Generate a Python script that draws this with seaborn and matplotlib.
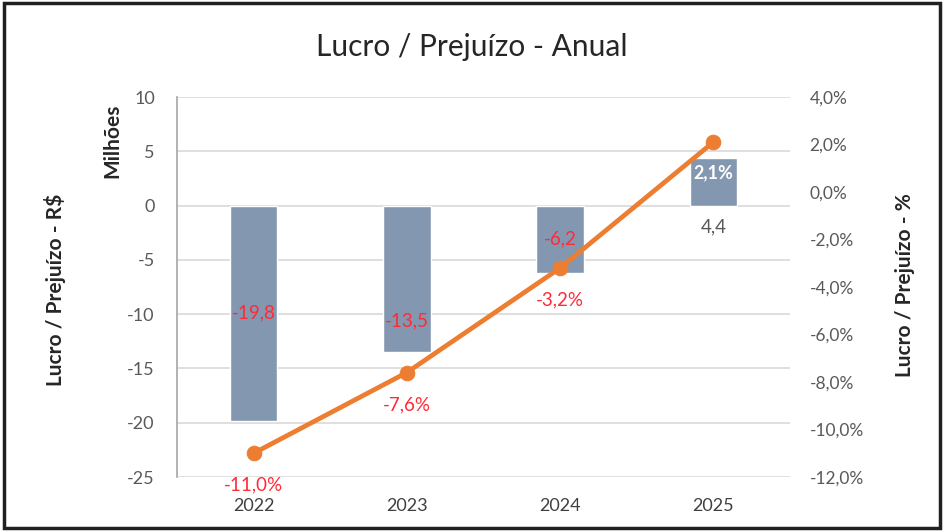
import matplotlib
matplotlib.use("Agg")
import matplotlib.pyplot as plt
import seaborn as sns
import numpy as np
from matplotlib.patches import Rectangle

years = ["2022", "2023", "2024", "2025"]
lucro_mi = [-19.8, -13.5, -6.2, 4.4]
lucro_pct = [-11.0, -7.6, -3.2, 2.1]
left_ticks = [10, 5, 0, -5, -10, -15, -20, -25]
right_ticks = [4, 2, 0, -2, -4, -6, -8, -10, -12]

FONT = "Lato"
sns.set_theme(style="white")
plt.rcParams["font.family"] = [FONT, "DejaVu Sans"]

GRAY = "#595959"
RED = "#FF2A35"
BAR = "#8497B0"
ORANGE = "#ED7D31"

fig = plt.figure(figsize=(9.44, 5.31), dpi=100)
ax = fig.add_axes([177/944, 1-477/531, (790-177)/944, (477-97)/531])

x = np.arange(len(years))
sns.barplot(x=years, y=lucro_mi, ax=ax, color=BAR, width=0.31, saturation=1, zorder=2)
ax.set_ylim(-25, 10)
ax.set_xlim(-0.5, 3.5)
ax.set_yticks(left_ticks)
ax.set_yticklabels([f"{t}" for t in left_ticks])
ax.yaxis.grid(True, color="#D9D9D9", linewidth=1.2, zorder=0)
ax.set_axisbelow(True)
for s in ["top", "right", "bottom"]:
    ax.spines[s].set_visible(False)
ax.spines["left"].set_color("#A6A6A6")
ax.spines["left"].set_linewidth(1.2)
ax.tick_params(axis="y", length=0, labelsize=13, labelcolor=GRAY, pad=16)
ax.tick_params(axis="x", length=0, labelsize=13, labelcolor="#404040", pad=15)
ax.set_xlabel("")
ax.set_ylabel("")

ax2 = ax.twinx()
sns.lineplot(x=x, y=lucro_pct, ax=ax2, color=ORANGE, linewidth=3.4, marker="o",
             markersize=10.5, markeredgecolor=ORANGE, zorder=5)
ax2.set_ylim(-12, 4)
ax2.set_yticks(right_ticks)
ax2.set_yticklabels([f"{t:.1f}%".replace(".", ",") for t in right_ticks])
for s in ["top", "right", "bottom", "left"]:
    ax2.spines[s].set_visible(False)
ax2.tick_params(axis="y", length=0, labelsize=12.5, labelcolor=GRAY, pad=14)
ax2.grid(False)
ax2.set_ylabel("")

# bar labels
bar_offsets = [0, -30, 0]
for i, v in enumerate(lucro_mi):
    txt = f"{v:.1f}".replace(".", ",")
    if v < 0:
        ax.annotate(txt, (x[i], v / 2), xytext=(0, bar_offsets[i]), textcoords="offset points",
                    ha="center", va="center", color=RED, fontsize=13.5, zorder=6)
    else:
        ax.annotate(txt, (x[i], 0), xytext=(0, -15), textcoords="offset points",
                    ha="center", va="center", color=GRAY, fontsize=13.5, zorder=6)

# percent labels
for i, p in enumerate(lucro_pct):
    txt = f"{p:.1f}%".replace(".", ",")
    if p < 0:
        ax2.annotate(txt, (x[i], p), xytext=(0, -23), textcoords="offset points",
                     ha="center", va="center", color=RED, fontsize=13.5, zorder=6)
    else:
        ax2.annotate(txt, (x[i], p), xytext=(0, -22), textcoords="offset points",
                     ha="center", va="center", color="white", fontsize=13,
                     fontweight="bold", zorder=6)

fig.text(0.5, 1-47/531, "Lucro / Prejuízo - Anual", ha="center", va="center",
         fontsize=21.5, color="#262626")
fig.text(55/944, 1-290/531, "Lucro / Prejuízo - R$", rotation=90, ha="center", va="center",
         fontsize=15, fontweight="bold", color="#262626")
fig.text(112/944, 1-141/531, "Milhões", rotation=90, ha="center", va="center",
         fontsize=15, fontweight="bold", color="#262626")
fig.text(905/944, 1-285/531, "Lucro / Prejuízo - %", rotation=90, ha="center", va="center",
         fontsize=15, fontweight="bold", color="#262626")

# outer frame
fig.patches.append(Rectangle((0.004, 0.006), 0.992, 0.988, transform=fig.transFigure,
                             fill=False, edgecolor="#202020", linewidth=2.5))

fig.savefig("out.png", dpi=100)
